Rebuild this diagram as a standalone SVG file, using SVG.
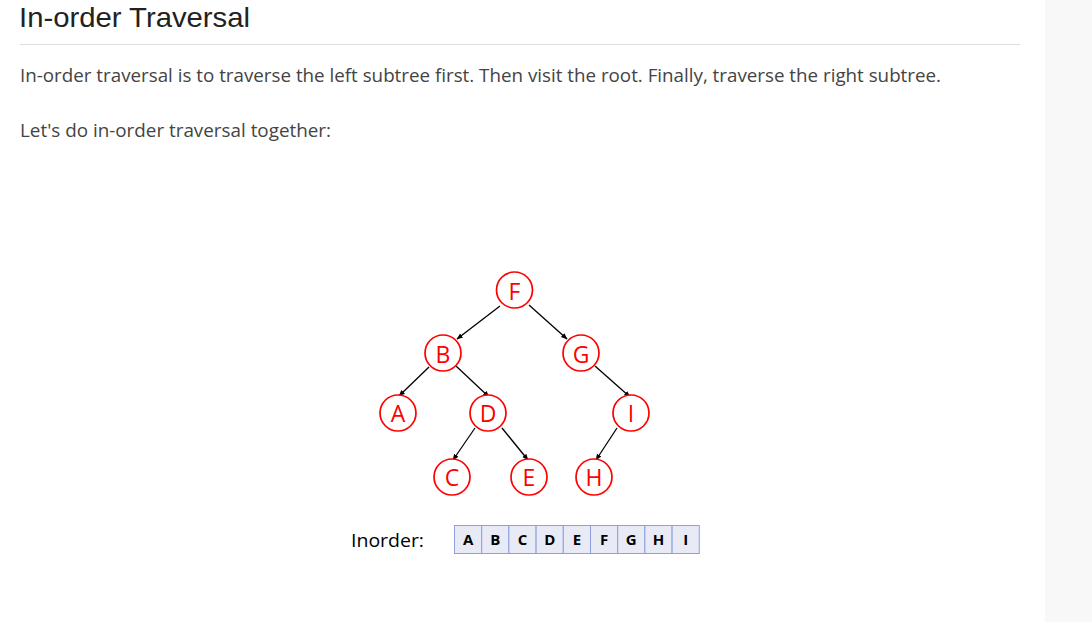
<svg xmlns="http://www.w3.org/2000/svg" width="1092" height="622" viewBox="0 0 1092 622">
<defs>
<marker id="arr" viewBox="0 0 10 10" refX="9" refY="5" markerWidth="5" markerHeight="5" orient="auto"><path d="M0,1 L10,5 L0,9 z" fill="#000"/></marker>
<style>
.h1{font-family:"Liberation Sans","Open Sans",sans-serif;font-size:28.5px;fill:#222}
.p{font-family:"Open Sans","Noto Sans",sans-serif;font-size:18px;fill:#444}
.node circle{fill:#fff;stroke:#f00;stroke-width:1.7}
.node text{font-family:"Open Sans","Noto Sans",sans-serif;font-size:23px;fill:#f00;text-anchor:middle}
.edge{stroke:#000;stroke-width:1.3;marker-end:url(#arr);fill:none}
.cell rect{fill:#e8eaf6;stroke:#8ea0dc;stroke-width:1}
.cell text{font-family:"Open Sans","Noto Sans",sans-serif;font-size:15px;font-weight:bold;fill:#000;text-anchor:middle}
.lbl{font-family:"Open Sans","Noto Sans",sans-serif;font-size:19px;fill:#000}
</style>
</defs>
<rect width="1092" height="622" fill="#fff"/>
<rect x="1045" y="0" width="47" height="622" fill="#f8f8f8"/>
<text class="h1" x="19" y="26.5" textLength="231" lengthAdjust="spacingAndGlyphs">In-order Traversal</text>
<line x1="20" y1="44.5" x2="1020" y2="44.5" stroke="#ddd" stroke-width="1"/>
<text class="p" x="20" y="82" textLength="921" lengthAdjust="spacingAndGlyphs">In-order traversal is to traverse the left subtree first. Then visit the root. Finally, traverse the right subtree.</text>
<text class="p" x="20" y="137" textLength="311" lengthAdjust="spacingAndGlyphs">Let's do in-order traversal together:</text>
<g id="connectors">
<line class="edge" x1="500" y1="306" x2="457" y2="339"/>
<line class="edge" x1="529" y1="305" x2="567" y2="339"/>
<line class="edge" x1="429" y1="367" x2="399" y2="396"/>
<line class="edge" x1="456" y1="366" x2="489" y2="397"/>
<line class="edge" x1="595" y1="366" x2="630" y2="397"/>
<line class="edge" x1="475" y1="428" x2="453" y2="460"/>
<line class="edge" x1="502" y1="428" x2="528" y2="460"/>
<line class="edge" x1="617" y1="428" x2="596" y2="460"/>
</g>
<g id="node-F" class="node"><circle cx="514.5" cy="290" r="18"/><text x="514.5" y="299.5">F</text></g>
<g id="node-B" class="node"><circle cx="443" cy="353" r="18"/><text x="443" y="362.5">B</text></g>
<g id="node-G" class="node"><circle cx="581" cy="353" r="18"/><text x="581" y="362.5">G</text></g>
<g id="node-A" class="node"><circle cx="398" cy="413" r="18"/><text x="398" y="422">A</text></g>
<g id="node-D" class="node"><circle cx="488" cy="413" r="18"/><text x="488" y="422">D</text></g>
<g id="node-I" class="node"><circle cx="631" cy="413" r="18"/><text x="631" y="422">I</text></g>
<g id="node-C" class="node"><circle cx="452" cy="477" r="18"/><text x="452" y="486">C</text></g>
<g id="node-E" class="node"><circle cx="529" cy="477" r="18"/><text x="529" y="486">E</text></g>
<g id="node-H" class="node"><circle cx="594" cy="477" r="18"/><text x="594" y="486">H</text></g>
<text class="lbl" x="351" y="547" textLength="73" lengthAdjust="spacingAndGlyphs">Inorder:</text>
<g id="array">
<g class="cell"><rect x="454.5" y="525.5" width="27.2" height="28"/><text x="468.1" y="545">A</text></g>
<g class="cell"><rect x="481.7" y="525.5" width="27.2" height="28"/><text x="495.3" y="545">B</text></g>
<g class="cell"><rect x="508.9" y="525.5" width="27.2" height="28"/><text x="522.5" y="545">C</text></g>
<g class="cell"><rect x="536.1" y="525.5" width="27.2" height="28"/><text x="549.7" y="545">D</text></g>
<g class="cell"><rect x="563.3" y="525.5" width="27.2" height="28"/><text x="576.9" y="545">E</text></g>
<g class="cell"><rect x="590.5" y="525.5" width="27.2" height="28"/><text x="604.1" y="545">F</text></g>
<g class="cell"><rect x="617.7" y="525.5" width="27.2" height="28"/><text x="631.3" y="545">G</text></g>
<g class="cell"><rect x="644.9" y="525.5" width="27.2" height="28"/><text x="658.5" y="545">H</text></g>
<g class="cell"><rect x="672.1" y="525.5" width="27.2" height="28"/><text x="685.7" y="545">I</text></g>
</g>
</svg>
